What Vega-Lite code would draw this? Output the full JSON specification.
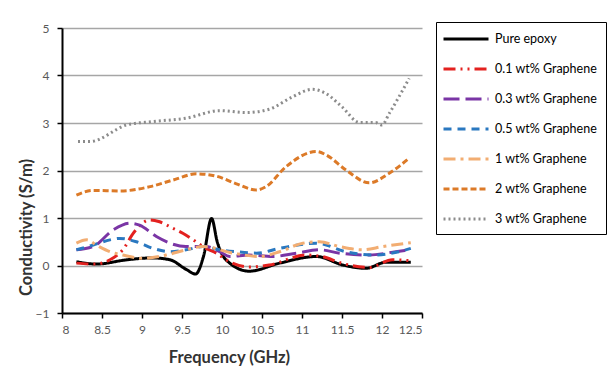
{
  "$schema": "https://vega.github.io/schema/vega-lite/v6.json",
  "width": 360,
  "height": 285,
  "autosize": "none",
  "padding": {"left": 62, "top": 28, "right": 186, "bottom": 58},
  "background": "white",
  "config": {
    "view": {"stroke": null},
    "font": "Lato"
  },
  "data": {
    "values": [
      {"s": "Pure epoxy", "f": 8.18, "v": 0.08},
      {"s": "Pure epoxy", "f": 8.43, "v": 0.03},
      {"s": "Pure epoxy", "f": 8.81, "v": 0.12},
      {"s": "Pure epoxy", "f": 9.13, "v": 0.16},
      {"s": "Pure epoxy", "f": 9.35, "v": 0.12},
      {"s": "Pure epoxy", "f": 9.55, "v": -0.08},
      {"s": "Pure epoxy", "f": 9.67, "v": -0.18},
      {"s": "Pure epoxy", "f": 9.77, "v": 0.2},
      {"s": "Pure epoxy", "f": 9.87, "v": 0.99},
      {"s": "Pure epoxy", "f": 9.94, "v": 0.5},
      {"s": "Pure epoxy", "f": 10.05, "v": 0.12},
      {"s": "Pure epoxy", "f": 10.34, "v": -0.12},
      {"s": "Pure epoxy", "f": 10.72, "v": 0.05},
      {"s": "Pure epoxy", "f": 11.18, "v": 0.19},
      {"s": "Pure epoxy", "f": 11.51, "v": 0.01},
      {"s": "Pure epoxy", "f": 11.8, "v": -0.06},
      {"s": "Pure epoxy", "f": 12.05, "v": 0.07},
      {"s": "Pure epoxy", "f": 12.36, "v": 0.07},

      {"s": "0.1 wt% Graphene", "f": 8.18, "v": 0.05},
      {"s": "0.1 wt% Graphene", "f": 8.4, "v": 0.03},
      {"s": "0.1 wt% Graphene", "f": 8.6, "v": 0.12},
      {"s": "0.1 wt% Graphene", "f": 8.76, "v": 0.33},
      {"s": "0.1 wt% Graphene", "f": 8.9, "v": 0.7},
      {"s": "0.1 wt% Graphene", "f": 9.1, "v": 0.96},
      {"s": "0.1 wt% Graphene", "f": 9.22, "v": 0.92},
      {"s": "0.1 wt% Graphene", "f": 9.39, "v": 0.78},
      {"s": "0.1 wt% Graphene", "f": 9.51, "v": 0.68},
      {"s": "0.1 wt% Graphene", "f": 9.64, "v": 0.54},
      {"s": "0.1 wt% Graphene", "f": 9.8, "v": 0.36},
      {"s": "0.1 wt% Graphene", "f": 9.93, "v": 0.26},
      {"s": "0.1 wt% Graphene", "f": 10.05, "v": 0.12},
      {"s": "0.1 wt% Graphene", "f": 10.34, "v": -0.03},
      {"s": "0.1 wt% Graphene", "f": 10.59, "v": 0.01},
      {"s": "0.1 wt% Graphene", "f": 11.05, "v": 0.22},
      {"s": "0.1 wt% Graphene", "f": 11.25, "v": 0.19},
      {"s": "0.1 wt% Graphene", "f": 11.51, "v": 0.04},
      {"s": "0.1 wt% Graphene", "f": 11.84, "v": -0.04},
      {"s": "0.1 wt% Graphene", "f": 12.13, "v": 0.12},
      {"s": "0.1 wt% Graphene", "f": 12.36, "v": 0.1},

      {"s": "0.3 wt% Graphene", "f": 8.18, "v": 0.33},
      {"s": "0.3 wt% Graphene", "f": 8.39, "v": 0.4},
      {"s": "0.3 wt% Graphene", "f": 8.64, "v": 0.75},
      {"s": "0.3 wt% Graphene", "f": 8.85, "v": 0.89},
      {"s": "0.3 wt% Graphene", "f": 8.97, "v": 0.85},
      {"s": "0.3 wt% Graphene", "f": 9.18, "v": 0.61},
      {"s": "0.3 wt% Graphene", "f": 9.35, "v": 0.47},
      {"s": "0.3 wt% Graphene", "f": 9.55, "v": 0.4},
      {"s": "0.3 wt% Graphene", "f": 9.8, "v": 0.4},
      {"s": "0.3 wt% Graphene", "f": 9.97, "v": 0.29},
      {"s": "0.3 wt% Graphene", "f": 10.1, "v": 0.19},
      {"s": "0.3 wt% Graphene", "f": 10.34, "v": 0.22},
      {"s": "0.3 wt% Graphene", "f": 10.63, "v": 0.19},
      {"s": "0.3 wt% Graphene", "f": 10.93, "v": 0.26},
      {"s": "0.3 wt% Graphene", "f": 11.22, "v": 0.33},
      {"s": "0.3 wt% Graphene", "f": 11.47, "v": 0.26},
      {"s": "0.3 wt% Graphene", "f": 11.84, "v": 0.22},
      {"s": "0.3 wt% Graphene", "f": 12.17, "v": 0.29},
      {"s": "0.3 wt% Graphene", "f": 12.36, "v": 0.33},

      {"s": "0.5 wt% Graphene", "f": 8.18, "v": 0.33},
      {"s": "0.5 wt% Graphene", "f": 8.39, "v": 0.43},
      {"s": "0.5 wt% Graphene", "f": 8.6, "v": 0.54},
      {"s": "0.5 wt% Graphene", "f": 8.72, "v": 0.57},
      {"s": "0.5 wt% Graphene", "f": 8.93, "v": 0.5},
      {"s": "0.5 wt% Graphene", "f": 9.14, "v": 0.36},
      {"s": "0.5 wt% Graphene", "f": 9.35, "v": 0.29},
      {"s": "0.5 wt% Graphene", "f": 9.55, "v": 0.33},
      {"s": "0.5 wt% Graphene", "f": 9.76, "v": 0.4},
      {"s": "0.5 wt% Graphene", "f": 9.97, "v": 0.33},
      {"s": "0.5 wt% Graphene", "f": 10.18, "v": 0.29},
      {"s": "0.5 wt% Graphene", "f": 10.43, "v": 0.26},
      {"s": "0.5 wt% Graphene", "f": 10.72, "v": 0.36},
      {"s": "0.5 wt% Graphene", "f": 11.18, "v": 0.47},
      {"s": "0.5 wt% Graphene", "f": 11.55, "v": 0.29},
      {"s": "0.5 wt% Graphene", "f": 11.88, "v": 0.22},
      {"s": "0.5 wt% Graphene", "f": 12.21, "v": 0.29},
      {"s": "0.5 wt% Graphene", "f": 12.36, "v": 0.36},

      {"s": "1 wt% Graphene", "f": 8.18, "v": 0.47},
      {"s": "1 wt% Graphene", "f": 8.31, "v": 0.54},
      {"s": "1 wt% Graphene", "f": 8.43, "v": 0.43},
      {"s": "1 wt% Graphene", "f": 8.6, "v": 0.29},
      {"s": "1 wt% Graphene", "f": 8.76, "v": 0.22},
      {"s": "1 wt% Graphene", "f": 9.01, "v": 0.15},
      {"s": "1 wt% Graphene", "f": 9.3, "v": 0.22},
      {"s": "1 wt% Graphene", "f": 9.55, "v": 0.33},
      {"s": "1 wt% Graphene", "f": 9.76, "v": 0.4},
      {"s": "1 wt% Graphene", "f": 10.14, "v": 0.26},
      {"s": "1 wt% Graphene", "f": 10.47, "v": 0.19},
      {"s": "1 wt% Graphene", "f": 10.72, "v": 0.29},
      {"s": "1 wt% Graphene", "f": 11.01, "v": 0.47},
      {"s": "1 wt% Graphene", "f": 11.22, "v": 0.5},
      {"s": "1 wt% Graphene", "f": 11.47, "v": 0.4},
      {"s": "1 wt% Graphene", "f": 11.76, "v": 0.33},
      {"s": "1 wt% Graphene", "f": 12.01, "v": 0.4},
      {"s": "1 wt% Graphene", "f": 12.36, "v": 0.48},

      {"s": "2 wt% Graphene", "f": 8.18, "v": 1.48},
      {"s": "2 wt% Graphene", "f": 8.39, "v": 1.58},
      {"s": "2 wt% Graphene", "f": 8.73, "v": 1.57},
      {"s": "2 wt% Graphene", "f": 9.1, "v": 1.66},
      {"s": "2 wt% Graphene", "f": 9.39, "v": 1.8},
      {"s": "2 wt% Graphene", "f": 9.68, "v": 1.93},
      {"s": "2 wt% Graphene", "f": 9.93, "v": 1.88},
      {"s": "2 wt% Graphene", "f": 10.18, "v": 1.72},
      {"s": "2 wt% Graphene", "f": 10.43, "v": 1.59},
      {"s": "2 wt% Graphene", "f": 10.55, "v": 1.66},
      {"s": "2 wt% Graphene", "f": 10.8, "v": 2.08},
      {"s": "2 wt% Graphene", "f": 11.18, "v": 2.4},
      {"s": "2 wt% Graphene", "f": 11.3, "v": 2.33},
      {"s": "2 wt% Graphene", "f": 11.55, "v": 2.01},
      {"s": "2 wt% Graphene", "f": 11.84, "v": 1.74},
      {"s": "2 wt% Graphene", "f": 12.09, "v": 1.94},
      {"s": "2 wt% Graphene", "f": 12.34, "v": 2.26},

      {"s": "3 wt% Graphene", "f": 8.2, "v": 2.61},
      {"s": "3 wt% Graphene", "f": 8.35, "v": 2.61},
      {"s": "3 wt% Graphene", "f": 8.81, "v": 2.96},
      {"s": "3 wt% Graphene", "f": 9.13, "v": 3.03},
      {"s": "3 wt% Graphene", "f": 9.55, "v": 3.1},
      {"s": "3 wt% Graphene", "f": 9.97, "v": 3.26},
      {"s": "3 wt% Graphene", "f": 10.3, "v": 3.22},
      {"s": "3 wt% Graphene", "f": 10.59, "v": 3.29},
      {"s": "3 wt% Graphene", "f": 10.88, "v": 3.55},
      {"s": "3 wt% Graphene", "f": 11.13, "v": 3.71},
      {"s": "3 wt% Graphene", "f": 11.3, "v": 3.62},
      {"s": "3 wt% Graphene", "f": 11.5, "v": 3.34},
      {"s": "3 wt% Graphene", "f": 11.72, "v": 3.01},
      {"s": "3 wt% Graphene", "f": 11.92, "v": 3.01},
      {"s": "3 wt% Graphene", "f": 12.0, "v": 2.96},
      {"s": "3 wt% Graphene", "f": 12.09, "v": 3.2},
      {"s": "3 wt% Graphene", "f": 12.34, "v": 3.94}
    ]
  },
  "mark": {"type": "line", "interpolate": "monotone", "strokeWidth": 3},
  "encoding": {
    "x": {
      "field": "f", "type": "quantitative",
      "scale": {"domain": [8, 12.5], "nice": false, "zero": false},
      "axis": {
        "values": [8, 8.5, 9, 9.5, 10, 10.5, 11, 11.5, 12, 12.5],
        "format": "~g",
        "grid": false,
        "domainColor": "black", "domainWidth": 2,
        "tickColor": "black", "tickWidth": 1.5, "tickSize": 5,
        "labelFont": "Lato", "labelFontSize": 12, "labelColor": "#595959", "labelPadding": 6,
        "title": "Frequency (GHz)",
        "titleFont": "Lato", "titleFontSize": 16.5, "titleFontWeight": "bold", "titleColor": "#333333",
        "titlePadding": 14, "titleX": 167
      }
    },
    "y": {
      "field": "v", "type": "quantitative",
      "scale": {"domain": [-1, 5], "nice": false, "zero": false},
      "axis": {
        "values": [-1, 0, 1, 2, 3, 4, 5],
        "grid": true, "gridColor": "#a6a6a6", "gridWidth": 1.5,
        "domainColor": "black", "domainWidth": 2,
        "tickColor": "black", "tickWidth": 1.5, "tickSize": 5,
        "labelFont": "Lato", "labelFontSize": 12, "labelColor": "#595959", "labelPadding": 8,
        "title": "Conductivity (S/m)",
        "titleFont": "Lato", "titleFontSize": 16.5, "titleFontWeight": "bold", "titleColor": "#333333",
        "titlePadding": 1, "titleY": 199
      }
    },
    "color": {
      "field": "s", "type": "nominal",
      "scale": {
        "domain": ["Pure epoxy", "0.1 wt% Graphene", "0.3 wt% Graphene", "0.5 wt% Graphene", "1 wt% Graphene", "2 wt% Graphene", "3 wt% Graphene"],
        "range": ["#000000", "#e3211f", "#7a35a5", "#2a78c0", "#f2ad72", "#dc7a28", "#8c8c8c"]
      },
      "legend": {
        "title": null,
        "orient": "none", "legendX": 374, "legendY": -6,
        "symbolType": "M-3,0H3", "symbolSize": 225, "symbolStrokeWidth": 3, "symbolOffset": 13,
        "rowPadding": 14,
        "labelFont": "Lato", "labelFontSize": 12.5, "labelColor": "#000000", "labelOffset": 20,
        "strokeColor": "black", "fillColor": "white",
        "padding": 8
      }
    },
    "strokeDash": {
      "field": "s", "type": "nominal",
      "scale": {
        "domain": ["Pure epoxy", "0.1 wt% Graphene", "0.3 wt% Graphene", "0.5 wt% Graphene", "1 wt% Graphene", "2 wt% Graphene", "3 wt% Graphene"],
        "range": [[1, 0], [12, 5, 2, 5, 2, 5], [16, 6], [8, 6], [12, 5, 3, 5], [6, 3], [2, 3]]
      },
      "legend": null
    }
  }
}
